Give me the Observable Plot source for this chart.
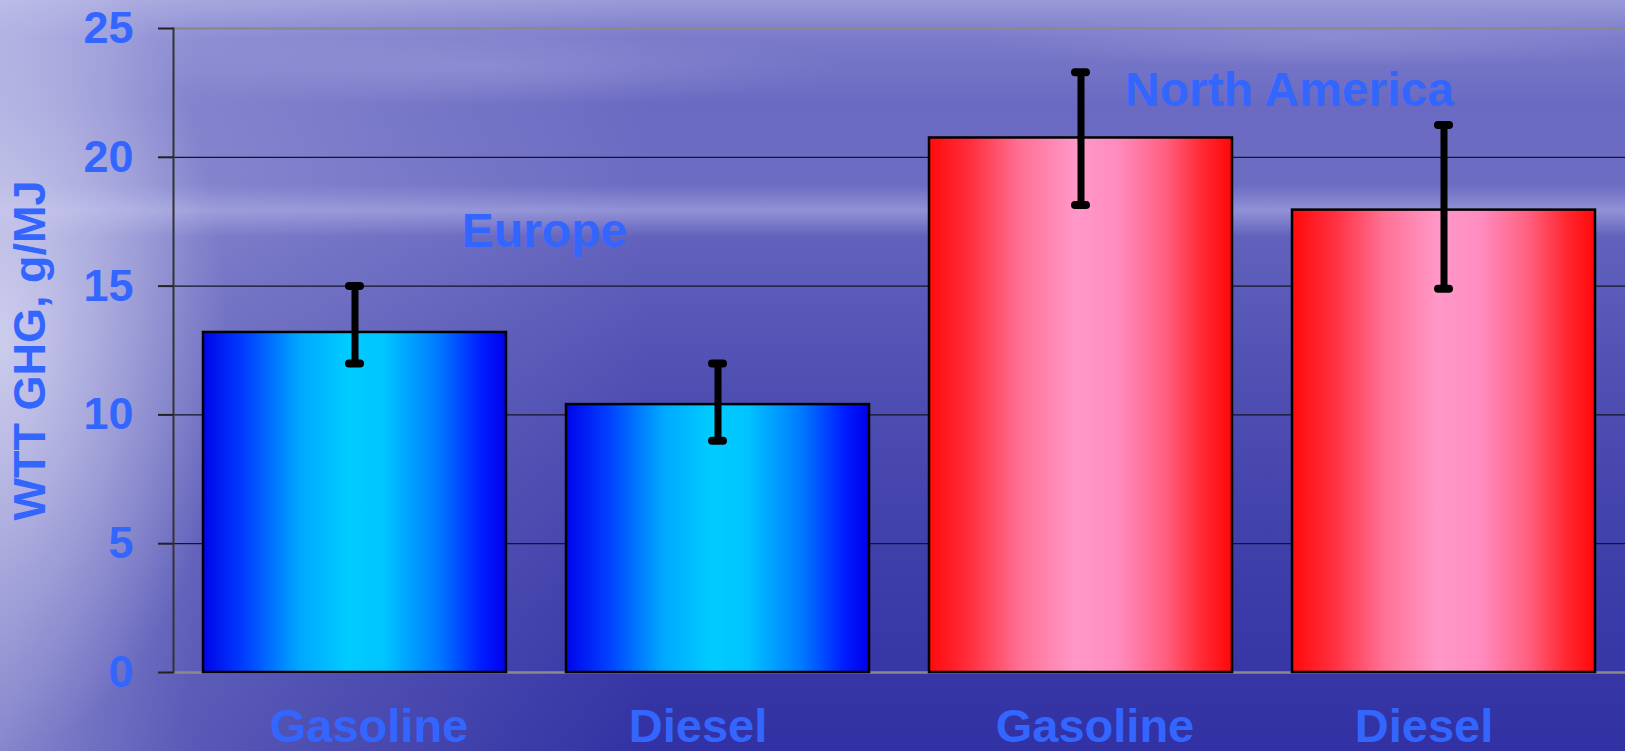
<!DOCTYPE html>
<html>
<head>
<meta charset="utf-8">
<script src="https://cdn.jsdelivr.net/npm/d3@7"></script>
<script src="https://cdn.jsdelivr.net/npm/@observablehq/plot@0.6"></script>
<style>
  html, body { margin: 0; padding: 0; }
  body {
    width: 1625px; height: 751px; overflow: hidden;
    background:
      radial-gradient(ellipse 14% 55% at 0% 45%, rgba(222,222,244,0.75), rgba(222,222,244,0) 100%),
      radial-gradient(ellipse 22% 5% at 30% 9%, rgba(170,170,225,0.35), rgba(170,170,225,0) 100%),
      radial-gradient(ellipse 22% 4% at 82% 5%, rgba(170,170,225,0.35), rgba(170,170,225,0) 100%),
      linear-gradient(to bottom, rgba(0,0,0,0) 24.5%, rgba(180,180,232,0.55) 28%, rgba(0,0,0,0) 31.5%),
      linear-gradient(to right, rgba(205,205,240,0.55) 0%, rgba(205,205,240,0.25) 12%, rgba(205,205,240,0) 40%),
      linear-gradient(to bottom, #9a9ad8 0%, #7a7aca 5%, #6a6ac2 14%, #6c6cc3 24%, #6060bc 33%, #5252b4 48%, #4646ae 64%, #3a3aa8 82%, #3131a3 100%);
  }
  #chart svg { background: transparent !important; overflow: visible; display: block; }
</style>
</head>
<body>
<svg width="0" height="0" style="position:absolute">
  <defs>
    <linearGradient id="blueGrad" x1="0" x2="1" y1="0" y2="0">
      <stop offset="0%" stop-color="#0004ea"/>
      <stop offset="14%" stop-color="#0040ff"/>
      <stop offset="32%" stop-color="#00a8ff"/>
      <stop offset="48%" stop-color="#00ccff"/>
      <stop offset="60%" stop-color="#00c4ff"/>
      <stop offset="78%" stop-color="#0078ff"/>
      <stop offset="92%" stop-color="#001cff"/>
      <stop offset="100%" stop-color="#0000ea"/>
    </linearGradient>
    <linearGradient id="redGrad" x1="0" x2="1" y1="0" y2="0">
      <stop offset="0%" stop-color="#ff0a0a"/>
      <stop offset="14%" stop-color="#ff3040"/>
      <stop offset="30%" stop-color="#ff7094"/>
      <stop offset="48%" stop-color="#ff98c8"/>
      <stop offset="62%" stop-color="#ff8cc0"/>
      <stop offset="78%" stop-color="#ff6080"/>
      <stop offset="90%" stop-color="#ff2a34"/>
      <stop offset="100%" stop-color="#ff0808"/>
    </linearGradient>
  </defs>
</svg>
<div id="chart"></div>
<script>
// ---- data ----
const regions = ["Europe", "Europe", "North America", "North America"];
const fuels = ["Gasoline", "Diesel", "Gasoline", "Diesel"];
const values = [13.2, 10.4, 20.75, 17.95];
const lows = [12.0, 9.0, 18.15, 14.9];
const highs = [15.0, 12.0, 23.3, 21.25];
const yTicks = [0, 5, 10, 15, 20, 25];
const regionNames = ["Europe", "North America"];
const fuelNames = ["Gasoline", "Diesel"];
const yLabel = "WTT GHG, g/MJ";

const data = regions.map((r, i) => ({region: r, fuel: fuels[i], value: values[i], lo: lows[i], hi: highs[i]}));

const textColor = "#3366ff";
const font = "'Liberation Sans', Arial, Helvetica, sans-serif";

const chart = Plot.plot({
  width: 1625,
  height: 751,
  marginLeft: 172,
  marginRight: 0,
  marginTop: 28,
  marginBottom: 79,
  style: {background: "transparent", fontFamily: font, fontWeight: "bold", fontSize: "45px", color: textColor, overflow: "visible"},
  fx: {domain: regionNames, padding: 0, axis: null},
  x: {domain: fuelNames, paddingInner: 0.165, paddingOuter: 0.0825},
  y: {domain: [0, 25]},
  marks: [
    Plot.ruleY(yTicks.filter(t => t !== 0 && t !== 25), {stroke: "#15152a", strokeWidth: 1.2}),
    Plot.ruleY([0, 25], {stroke: "#8a8a8a", strokeWidth: 2.5}),
    Plot.frame({anchor: "left", facetAnchor: "left", stroke: "#333", strokeWidth: 2}),
    Plot.axisY({ticks: yTicks, tickSize: 15, tickPadding: 25, stroke: "#222", strokeWidth: 2, fill: textColor, fontSize: 45,
      label: yLabel, labelAnchor: "center", labelArrow: "none", labelOffset: 160}),
    Plot.axisX({ticks: ["Gasoline"], tickSize: 0, tickPadding: 36, dx: 14, fill: textColor, fontSize: 47, label: null}),
    Plot.axisX({ticks: ["Diesel"], tickSize: 0, tickPadding: 36, dx: -20, fill: textColor, fontSize: 47, label: null}),
    Plot.barY(data.filter(d => d.region === "Europe"), {fx: "region", x: "fuel", y: "value", fill: "url(#blueGrad)", stroke: "#000", strokeWidth: 2.5}),
    Plot.barY(data.filter(d => d.region === "North America"), {fx: "region", x: "fuel", y: "value", fill: "url(#redGrad)", stroke: "#000", strokeWidth: 2.5}),
    Plot.ruleX(data, {fx: "region", x: "fuel", y1: "lo", y2: "hi", stroke: "#000", strokeWidth: 7}),
    Plot.tickY(data, {fx: "region", x: "fuel", y: "lo", stroke: "#000", strokeWidth: 8, strokeLinecap: "round", inset: 146}),
    Plot.tickY(data, {fx: "region", x: "fuel", y: "hi", stroke: "#000", strokeWidth: 8, strokeLinecap: "round", inset: 146}),
    Plot.text(["Europe"], {fx: d => d, text: d => d, frameAnchor: "top", dy: 184, dx: 8, fontSize: 48, fill: textColor}),
    Plot.text(["North America"], {fx: d => d, text: d => d, frameAnchor: "top", dy: 43, dx: 27, fontSize: 48, fill: textColor})
  ]
});
document.getElementById("chart").appendChild(chart);
</script>
</body>
</html>
